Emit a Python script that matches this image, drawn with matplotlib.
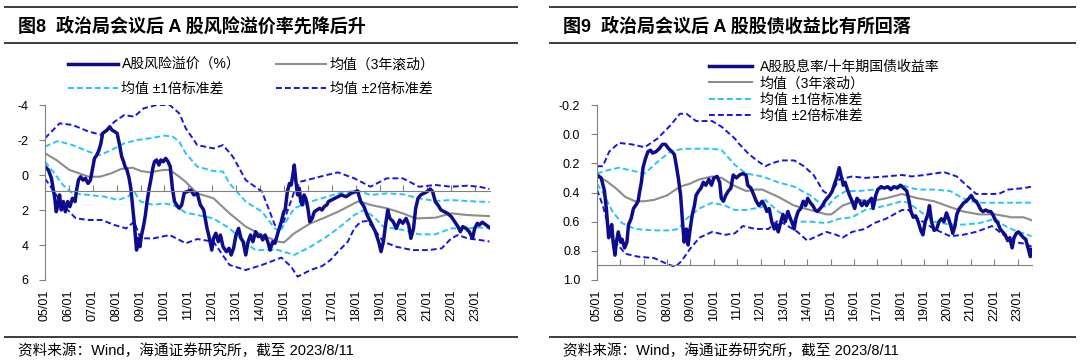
import matplotlib
matplotlib.use("Agg")
import matplotlib.pyplot as plt
from matplotlib.lines import Line2D

plt.rcParams['font.family'] = ['Liberation Sans', 'Noto Sans CJK SC']
plt.rcParams['axes.unicode_minus'] = False

# ---- data: (decimal year, value) ----
years = list(range(2005, 2024))
year_labels = [f"{y % 100:02d}/01" for y in years]

left_main = [
    (2005.00, -0.48), (2005.14, -0.29), (2005.27, 0.19), (2005.34, 0.76), (2005.41, 1.33),
    (2005.47, 2.10), (2005.54, 1.71), (2005.61, 1.14), (2005.68, 2.00), (2005.77, 1.52),
    (2005.85, 2.10), (2005.95, 1.52), (2006.04, 1.81), (2006.15, 1.33), (2006.26, 1.52),
    (2006.31, 0.95), (2006.40, 0.29), (2006.49, 0.10), (2006.59, 0.29), (2006.69, 0.19),
    (2006.80, 0.48), (2006.90, 0.29), (2006.99, -0.38), (2007.07, -0.95), (2007.17, -1.14),
    (2007.26, -1.43), (2007.34, -1.81), (2007.41, -2.38), (2007.51, -2.48), (2007.60, -2.57),
    (2007.71, -2.76), (2007.80, -2.57), (2007.91, -2.48), (2008.02, -2.38), (2008.12, -1.71),
    (2008.21, -1.05), (2008.29, -0.76), (2008.35, -0.48), (2008.43, -0.29), (2008.52, 0.19),
    (2008.59, 0.76), (2008.66, 1.71), (2008.73, 2.67), (2008.79, 3.62), (2008.83, 4.29),
    (2008.90, 3.62), (2008.97, 4.10), (2009.04, 3.43), (2009.13, 2.86), (2009.20, 2.29),
    (2009.27, 1.52), (2009.36, 0.76), (2009.44, 0.19), (2009.51, -0.38), (2009.58, -0.76),
    (2009.67, -0.86), (2009.77, -0.57), (2009.85, -0.86), (2009.95, -0.76), (2010.05, -0.95),
    (2010.15, -0.76), (2010.24, -0.48), (2010.33, 0.76), (2010.42, 1.52), (2010.51, 1.71),
    (2010.62, 1.90), (2010.72, 1.71), (2010.83, 1.00), (2010.96, 0.95), (2011.10, 0.86),
    (2011.23, 1.14), (2011.37, 1.05), (2011.50, 1.71), (2011.64, 2.00), (2011.78, 3.05),
    (2011.88, 3.62), (2011.98, 4.29), (2012.05, 3.62), (2012.15, 3.33), (2012.25, 3.81),
    (2012.34, 3.43), (2012.45, 4.10), (2012.59, 4.38), (2012.70, 4.19), (2012.79, 4.57),
    (2012.89, 4.19), (2012.99, 3.43), (2013.10, 3.05), (2013.20, 3.62), (2013.29, 3.81),
    (2013.40, 4.57), (2013.50, 3.81), (2013.60, 3.43), (2013.70, 3.81), (2013.81, 3.24),
    (2013.92, 3.52), (2014.01, 3.43), (2014.11, 3.71), (2014.21, 3.43), (2014.32, 3.81),
    (2014.42, 4.29), (2014.53, 3.81), (2014.62, 3.90), (2014.72, 3.43), (2014.80, 3.05),
    (2014.89, 2.67), (2014.99, 2.10), (2015.05, 2.00), (2015.14, 0.95), (2015.23, 0.48),
    (2015.30, 0.57), (2015.37, 0.00), (2015.43, -0.57), (2015.50, 0.38), (2015.57, 1.14),
    (2015.64, 0.76), (2015.70, 1.52), (2015.77, 1.71), (2015.84, 1.14), (2015.91, 1.33),
    (2016.00, 1.90), (2016.08, 2.67), (2016.18, 2.48), (2016.27, 2.10), (2016.38, 2.00),
    (2016.49, 1.90), (2016.59, 2.00), (2016.68, 1.81), (2016.79, 1.71), (2016.86, 1.52),
    (2017.13, 1.33), (2017.40, 1.14), (2017.60, 1.24), (2017.80, 1.05), (2018.08, 0.91),
    (2018.21, 1.52), (2018.35, 1.81), (2018.48, 2.29), (2018.69, 2.86), (2018.82, 3.24),
    (2018.96, 3.81), (2019.06, 4.38), (2019.16, 3.81), (2019.25, 2.86), (2019.34, 2.00),
    (2019.43, 2.48), (2019.57, 2.67), (2019.70, 3.05), (2019.84, 2.57), (2019.97, 2.76),
    (2020.11, 2.48), (2020.22, 2.86), (2020.31, 3.62), (2020.42, 3.05), (2020.51, 1.90),
    (2020.61, 1.33), (2020.72, 1.14), (2020.85, 1.05), (2020.99, 0.95), (2021.12, 0.80),
    (2021.22, 0.95), (2021.33, 1.52), (2021.44, 1.71), (2021.57, 2.00), (2021.71, 2.10),
    (2021.84, 2.19), (2022.00, 2.38), (2022.14, 2.67), (2022.28, 2.95), (2022.38, 3.24),
    (2022.48, 2.95), (2022.62, 3.05), (2022.75, 3.24), (2022.89, 3.62), (2022.98, 3.05),
    (2023.09, 2.76), (2023.17, 2.86), (2023.30, 2.70), (2023.45, 2.85), (2023.60, 3.00),
]
left_mean = [
    (2005.0, -1.24), (2005.47, -0.86), (2006.02, -0.29), (2006.42, -0.10), (2006.83, 0.10),
    (2007.30, 0.10), (2007.78, -0.10), (2008.18, -0.34), (2008.66, -0.42), (2009.0, -0.23),
    (2009.4, -0.15), (2009.95, -0.29), (2010.22, -0.29), (2010.62, 0.10), (2010.89, 0.40),
    (2011.37, 1.05), (2012.05, 1.33), (2012.72, 2.19), (2013.40, 2.95), (2014.08, 3.43),
    (2014.76, 3.81), (2015.0, 3.85), (2015.43, 3.33), (2016.11, 2.76), (2016.59, 2.50),
    (2017.26, 2.10), (2017.94, 1.62), (2018.14, 1.49), (2018.62, 1.71), (2019.30, 1.90),
    (2019.97, 2.19), (2020.51, 2.48), (2021.33, 2.44), (2022.0, 2.19), (2022.68, 2.29),
    (2023.17, 2.32), (2023.6, 2.35),
]
left_up1 = [
    (2005.0, -1.62), (2005.54, -1.94), (2006.15, -1.71), (2006.83, -1.33), (2007.30, -1.14),
    (2007.78, -1.43), (2008.32, -1.81), (2008.86, -2.0), (2009.40, -2.10), (2010.01, -2.25),
    (2010.35, -2.19), (2010.62, -1.90), (2010.89, -1.24), (2011.37, -0.48), (2012.05, -0.23),
    (2012.45, -0.19), (2012.72, 0.48), (2013.40, 1.52), (2014.08, 2.10), (2014.62, 3.05),
    (2014.82, 3.24), (2015.43, 1.90), (2016.11, 1.52), (2016.59, 1.33), (2017.26, 1.05),
    (2017.94, 0.91), (2018.21, 0.95), (2018.62, 1.14), (2019.30, 1.05), (2019.97, 1.10),
    (2020.65, 1.33), (2021.33, 1.49), (2022.0, 1.43), (2022.68, 1.49), (2023.17, 1.52),
    (2023.6, 1.55),
]
left_lo1 = [
    (2005.0, -0.76), (2005.34, -0.19), (2005.75, 0.57), (2006.15, 1.05), (2006.83, 1.14),
    (2007.51, 1.24), (2008.05, 1.43), (2008.46, 1.24), (2008.73, 0.95), (2009.0, 1.52),
    (2009.54, 1.71), (2009.95, 1.62), (2010.35, 1.71), (2010.89, 2.15), (2012.05, 2.48),
    (2012.72, 3.05), (2013.40, 3.90), (2013.81, 4.29), (2014.76, 4.29), (2015.43, 4.57),
    (2016.11, 4.10), (2016.79, 3.52), (2017.26, 3.05), (2017.94, 2.29), (2018.35, 2.0),
    (2018.75, 2.38), (2019.16, 2.95), (2019.97, 3.14), (2020.65, 3.39), (2021.33, 3.39),
    (2022.0, 3.05), (2022.68, 3.05), (2023.17, 3.0), (2023.6, 3.05),
]
left_up2 = [
    (2005.0, -2.1), (2005.61, -2.95), (2006.15, -2.86), (2006.83, -2.48), (2007.37, -2.29),
    (2007.91, -3.05), (2008.32, -3.43), (2008.73, -3.33), (2009.13, -3.81), (2009.67, -4.0),
    (2010.22, -4.0), (2010.62, -3.52), (2010.89, -2.67), (2011.37, -1.71), (2012.05, -1.52),
    (2012.45, -1.71), (2012.86, -1.05), (2013.40, 0.29), (2014.08, 0.95), (2014.62, 2.86),
    (2014.89, 3.05), (2015.43, 0.95), (2015.70, 0.38), (2016.79, 0.0), (2017.26, -0.15),
    (2017.94, 0.19), (2018.62, 0.67), (2019.30, 0.19), (2019.97, 0.19), (2020.65, 0.67),
    (2021.33, 0.57), (2022.0, 0.67), (2022.68, 0.61), (2023.17, 0.67), (2023.6, 0.80),
]
left_lo2 = [
    (2005.0, 0.20), (2005.47, 1.14), (2005.88, 1.90), (2006.29, 2.48), (2006.83, 2.57),
    (2007.37, 2.57), (2007.91, 2.86), (2008.39, 3.05), (2008.73, 2.67), (2009.0, 3.62),
    (2009.54, 3.62), (2010.22, 3.43), (2010.89, 3.90), (2011.37, 3.66), (2012.05, 3.81),
    (2012.72, 5.14), (2013.40, 5.43), (2014.08, 5.14), (2014.89, 4.72), (2015.30, 5.24),
    (2015.57, 5.81), (2016.11, 5.43), (2016.6, 5.2), (2016.95, 4.85), (2017.26, 4.38),
    (2017.67, 3.81), (2017.94, 3.05), (2018.21, 2.67), (2018.48, 2.63), (2018.75, 3.05),
    (2019.16, 3.81), (2019.70, 4.10), (2020.38, 4.29), (2021.06, 4.29), (2021.60, 4.19),
    (2022.0, 3.62), (2022.28, 3.43), (2022.68, 3.62), (2023.17, 3.71), (2023.6, 3.80),
]

right_main = [
    (2005.00, 0.28), (2005.18, 0.30), (2005.32, 0.39), (2005.41, 0.53), (2005.50, 0.71),
    (2005.55, 0.69), (2005.63, 0.62), (2005.69, 0.74), (2005.77, 0.83), (2005.83, 0.74),
    (2005.91, 0.67), (2006.01, 0.74), (2006.07, 0.72), (2006.18, 0.78), (2006.28, 0.74),
    (2006.35, 0.62), (2006.46, 0.58), (2006.56, 0.51), (2006.65, 0.49), (2006.76, 0.46),
    (2006.83, 0.39), (2006.90, 0.33), (2006.97, 0.23), (2007.07, 0.17), (2007.18, 0.12),
    (2007.29, 0.11), (2007.38, 0.13), (2007.52, 0.12), (2007.66, 0.10), (2007.80, 0.07),
    (2007.93, 0.07), (2008.07, 0.10), (2008.21, 0.12), (2008.31, 0.14), (2008.39, 0.21),
    (2008.48, 0.30), (2008.58, 0.42), (2008.66, 0.60), (2008.73, 0.74), (2008.83, 0.65),
    (2008.90, 0.76), (2008.97, 0.67), (2009.08, 0.55), (2009.17, 0.49), (2009.24, 0.42),
    (2009.35, 0.39), (2009.45, 0.37), (2009.55, 0.33), (2009.66, 0.35), (2009.79, 0.31),
    (2009.90, 0.35), (2010.00, 0.30), (2010.14, 0.29), (2010.25, 0.33), (2010.32, 0.44),
    (2010.41, 0.46), (2010.51, 0.42), (2010.62, 0.39), (2010.73, 0.37), (2010.83, 0.28),
    (2010.97, 0.30), (2011.10, 0.28), (2011.24, 0.27), (2011.38, 0.28), (2011.45, 0.35),
    (2011.59, 0.37), (2011.72, 0.42), (2011.82, 0.46), (2011.93, 0.49), (2012.07, 0.46),
    (2012.18, 0.49), (2012.27, 0.53), (2012.37, 0.51), (2012.48, 0.60), (2012.59, 0.65),
    (2012.69, 0.62), (2012.76, 0.67), (2012.87, 0.60), (2012.96, 0.55), (2013.06, 0.60),
    (2013.17, 0.53), (2013.28, 0.58), (2013.38, 0.62), (2013.44, 0.65), (2013.51, 0.58),
    (2013.61, 0.53), (2013.72, 0.51), (2013.83, 0.46), (2013.93, 0.49), (2014.02, 0.44),
    (2014.13, 0.47), (2014.24, 0.49), (2014.34, 0.52), (2014.44, 0.53), (2014.55, 0.51),
    (2014.66, 0.49), (2014.75, 0.46), (2014.85, 0.44), (2014.96, 0.42), (2015.07, 0.39),
    (2015.17, 0.34), (2015.26, 0.30), (2015.37, 0.23), (2015.47, 0.30), (2015.54, 0.35),
    (2015.62, 0.33), (2015.72, 0.38), (2015.81, 0.42), (2015.92, 0.46), (2016.03, 0.51),
    (2016.13, 0.44), (2016.23, 0.46), (2016.34, 0.49), (2016.45, 0.46), (2016.54, 0.49),
    (2016.64, 0.46), (2016.75, 0.44), (2016.82, 0.51), (2016.93, 0.42), (2017.02, 0.38),
    (2017.16, 0.36), (2017.30, 0.37), (2017.44, 0.36), (2017.58, 0.38), (2017.71, 0.36),
    (2017.85, 0.37), (2017.99, 0.35), (2018.13, 0.37), (2018.26, 0.39), (2018.36, 0.46),
    (2018.44, 0.53), (2018.54, 0.57), (2018.64, 0.56), (2018.75, 0.60), (2018.86, 0.66),
    (2018.95, 0.69), (2019.05, 0.60), (2019.16, 0.55), (2019.23, 0.49), (2019.32, 0.60),
    (2019.43, 0.66), (2019.54, 0.65), (2019.64, 0.60), (2019.74, 0.58), (2019.85, 0.60),
    (2019.96, 0.54), (2020.05, 0.58), (2020.15, 0.63), (2020.23, 0.68), (2020.32, 0.63),
    (2020.40, 0.55), (2020.51, 0.51), (2020.61, 0.49), (2020.70, 0.47), (2020.81, 0.46),
    (2020.92, 0.44), (2021.02, 0.42), (2021.12, 0.45), (2021.23, 0.46), (2021.34, 0.49),
    (2021.43, 0.52), (2021.53, 0.53), (2021.64, 0.52), (2021.75, 0.53), (2021.85, 0.53),
    (2021.94, 0.55), (2022.05, 0.59), (2022.16, 0.61), (2022.26, 0.65), (2022.36, 0.67),
    (2022.47, 0.69), (2022.58, 0.73), (2022.67, 0.71), (2022.77, 0.78), (2022.85, 0.71),
    (2022.95, 0.68), (2023.04, 0.67), (2023.15, 0.69), (2023.26, 0.71), (2023.35, 0.72),
    (2023.45, 0.78), (2023.55, 0.84), (2023.60, 0.79),
]
right_mean = [
    (2005.0, 0.29), (2005.39, 0.32), (2005.80, 0.37), (2006.21, 0.43), (2006.63, 0.46),
    (2007.04, 0.46), (2007.45, 0.45), (2008.0, 0.42), (2008.55, 0.36), (2008.97, 0.34),
    (2009.38, 0.31), (2009.93, 0.29), (2010.34, 0.30), (2010.83, 0.35), (2011.38, 0.39),
    (2011.79, 0.38), (2012.07, 0.38), (2012.76, 0.43), (2013.44, 0.49), (2014.13, 0.52),
    (2014.82, 0.55), (2015.03, 0.55), (2015.51, 0.49), (2016.2, 0.45), (2016.68, 0.46),
    (2017.37, 0.44), (2018.06, 0.41), (2018.26, 0.42), (2018.75, 0.44), (2019.43, 0.46),
    (2020.12, 0.50), (2020.67, 0.53), (2021.36, 0.55), (2022.05, 0.55), (2022.74, 0.57),
    (2023.26, 0.57), (2023.6, 0.59),
]
right_up1 = [
    (2005.0, 0.27), (2005.39, 0.25), (2005.94, 0.23), (2006.49, 0.25), (2007.04, 0.27),
    (2007.59, 0.19), (2008.14, 0.12), (2008.69, 0.10), (2009.24, 0.10), (2009.93, 0.10),
    (2010.34, 0.11), (2010.90, 0.21), (2011.38, 0.27), (2012.07, 0.29), (2012.76, 0.33),
    (2013.44, 0.36), (2014.13, 0.42), (2014.68, 0.49), (2014.82, 0.50), (2015.24, 0.43),
    (2015.65, 0.39), (2016.2, 0.39), (2016.86, 0.38), (2017.37, 0.37), (2018.06, 0.35),
    (2018.47, 0.37), (2018.75, 0.38), (2019.43, 0.38), (2020.12, 0.39), (2020.67, 0.44),
    (2021.23, 0.47), (2021.91, 0.47), (2022.6, 0.47), (2023.26, 0.47), (2023.6, 0.47),
]
right_lo1 = [
    (2005.0, 0.34), (2005.32, 0.42), (2005.66, 0.53), (2006.07, 0.61), (2006.63, 0.65),
    (2007.45, 0.66), (2008.14, 0.66), (2008.48, 0.65), (2008.83, 0.58), (2009.38, 0.51),
    (2009.93, 0.47), (2010.48, 0.49), (2010.90, 0.52), (2011.38, 0.52), (2012.07, 0.50),
    (2012.20, 0.45), (2012.48, 0.49), (2012.76, 0.53), (2013.44, 0.60), (2014.13, 0.60),
    (2014.82, 0.61), (2015.37, 0.58), (2015.92, 0.57), (2016.47, 0.52), (2017.37, 0.49),
    (2018.06, 0.46), (2018.33, 0.47), (2018.75, 0.52), (2019.43, 0.60), (2020.12, 0.62),
    (2020.67, 0.62), (2021.36, 0.61), (2022.05, 0.58), (2022.47, 0.63), (2023.02, 0.67),
    (2023.26, 0.68), (2023.6, 0.70),
]
right_up2 = [
    (2005.0, 0.22), (2005.25, 0.22), (2005.52, 0.12), (2005.94, 0.06), (2006.49, 0.07),
    (2007.04, 0.09), (2007.59, 0.03), (2008.14, -0.06), (2008.55, -0.14), (2008.83, -0.14),
    (2009.24, -0.09), (2009.93, -0.09), (2010.34, -0.05), (2010.90, 0.03), (2011.10, 0.07),
    (2011.52, 0.14), (2011.93, 0.19), (2012.2, 0.22), (2012.48, 0.20), (2012.89, 0.18),
    (2013.44, 0.18), (2013.86, 0.22), (2014.27, 0.28), (2014.68, 0.39), (2014.96, 0.42),
    (2015.37, 0.31), (2015.92, 0.29), (2016.47, 0.30), (2017.37, 0.29), (2018.06, 0.28),
    (2018.47, 0.29), (2019.02, 0.28), (2019.85, 0.26), (2020.4, 0.29), (2020.81, 0.35),
    (2021.23, 0.41), (2021.78, 0.41), (2022.19, 0.41), (2022.6, 0.38), (2023.26, 0.37),
    (2023.6, 0.36),
]
right_lo2 = [
    (2005.0, 0.38), (2005.25, 0.49), (2005.52, 0.65), (2005.80, 0.74), (2006.21, 0.82),
    (2006.76, 0.84), (2007.45, 0.85), (2008.0, 0.89), (2008.35, 0.91), (2008.62, 0.87),
    (2008.97, 0.79), (2009.38, 0.71), (2009.93, 0.67), (2010.48, 0.69), (2010.90, 0.68),
    (2011.24, 0.63), (2011.79, 0.65), (2012.34, 0.65), (2012.76, 0.59), (2013.17, 0.63),
    (2013.58, 0.67), (2014.0, 0.73), (2014.41, 0.70), (2014.82, 0.67), (2015.24, 0.69),
    (2015.51, 0.71), (2015.92, 0.67), (2016.47, 0.65), (2016.86, 0.61), (2017.37, 0.58),
    (2018.06, 0.52), (2018.33, 0.52), (2018.75, 0.58), (2019.43, 0.65), (2020.12, 0.70),
    (2020.67, 0.69), (2021.23, 0.67), (2021.91, 0.63), (2022.47, 0.70), (2022.88, 0.74),
    (2023.26, 0.75), (2023.6, 0.77),
]

left_ticks = [-4, -2, 0, 2, 4, 6]
left_ticklabels = ['-4', '-2', '0', '2', '4', '6']
right_ticks = [-0.2, 0.0, 0.2, 0.4, 0.6, 0.8, 1.0]
right_ticklabels = ['-0.2', '0.0', '0.2', '0.4', '0.6', '0.8', '1.0']

left_labels = ['A股风险溢价（%）', '均值（3年滚动）', '均值 ±1倍标准差', '均值 ±2倍标准差']
right_labels = ['A股股息率/十年期国债收益率', '均值（3年滚动）', '均值 ±1倍标准差', '均值 ±2倍标准差']

# ---- styling ----
NAVY = '#0c0c8c'
GRAY = '#8c8c8c'
CYAN = '#26c6f2'
BLUE = '#1616e0'
AXIS = '#808080'
RULE = '#3c3c3c'

W, H = 1080, 362
fig = plt.figure(figsize=(W / 100, H / 100), dpi=100)


def box(x0, y0, x1, y1):
    return [x0 / W, 1 - y1 / H, (x1 - x0) / W, (y1 - y0) / H]


def line(ax, pts, **kw):
    xs, ys = zip(*pts)
    return ax.plot(xs, ys, **kw)[0]


def panel(ax, main, mean, up1, lo1, up2, lo2, ylim, yticks, yticklabels):
    h2 = line(ax, up2, color=BLUE, lw=1.4, dashes=(3, 1.6))
    line(ax, lo2, color=BLUE, lw=1.4, dashes=(3, 1.6))
    h1 = line(ax, up1, color=CYAN, lw=1.4, dashes=(3, 1.6))
    line(ax, lo1, color=CYAN, lw=1.4, dashes=(3, 1.6))
    hm = line(ax, mean, color=GRAY, lw=1.5)
    h0 = line(ax, main, color=NAVY, lw=2.5, solid_joinstyle='round')
    ax.set_xlim(2005.0, 2023.62)
    ax.set_ylim(*ylim)
    for s in ('top', 'right'):
        ax.spines[s].set_visible(False)
    ax.spines['left'].set_color(AXIS)
    ax.spines['bottom'].set_color(AXIS)
    ax.spines['bottom'].set_position(('data', 0.9))
    ax.set_yticks(yticks, yticklabels)
    ax.tick_params(axis='y', direction='out', length=4, color=AXIS, labelsize=9, pad=8)
    ax.set_xticks(years)
    ax.tick_params(axis='x', direction='in', length=4, color=AXIS, labelbottom=False)
    sec = ax.secondary_xaxis(0)
    sec.set_xticks(years, year_labels)
    sec.tick_params(length=0, rotation=90, labelsize=9, pad=7)
    sec.spines['bottom'].set_visible(False)
    return [h0, hm, h1, h2]


axl = fig.add_axes(box(45, 105, 490, 280))
hl = panel(axl, left_main, left_mean, left_up1, left_lo1, left_up2, left_lo2,
           (6, -4), left_ticks, left_ticklabels)
axr = fig.add_axes(box(597, 105, 1032, 280))
hr = panel(axr, right_main, right_mean, right_up1, right_lo1, right_up2, right_lo2,
           (1.0, -0.2), right_ticks, right_ticklabels)

# legends (left one is two columns: main / ±1 in the first, mean / ±2 in the second)
fig.legend([hl[0], hl[2], hl[1], hl[3]],
           [left_labels[0], left_labels[2], left_labels[1], left_labels[3]],
           loc='upper left', bbox_to_anchor=(68 / W, 1 - 58 / H),
           ncol=2, frameon=False, fontsize=10, handlelength=3.6, handletextpad=0.25,
           columnspacing=2.6, labelspacing=0.72, borderpad=0, borderaxespad=0)
fig.legend(hr, right_labels, loc='upper left', bbox_to_anchor=(709 / W, 1 - 60 / H),
           ncol=1, frameon=False, fontsize=10, handlelength=3.1, handletextpad=0.55,
           labelspacing=0.17, borderpad=0, borderaxespad=0)

# header / footer rules and texts
for x0, x1, tx, title in [(5, 517, 18, '图8  政治局会议后 A 股风险溢价率先降后升'),
                          (550, 1075, 563, '图9  政治局会议后 A 股股债收益比有所回落')]:
    for yy in (7, 43, 337):
        fig.add_artist(Line2D([x0 / W, x1 / W], [1 - yy / H] * 2, color=RULE, lw=1.4))
    fig.text(tx / W, 1 - 26 / H, title, fontsize=13, fontweight='bold', va='center')
    fig.text(tx / W, 1 - 351 / H, '资料来源：Wind，海通证券研究所，截至 2023/8/11',
             fontsize=10.5, va='center')

fig.savefig('out.png', dpi=100)
